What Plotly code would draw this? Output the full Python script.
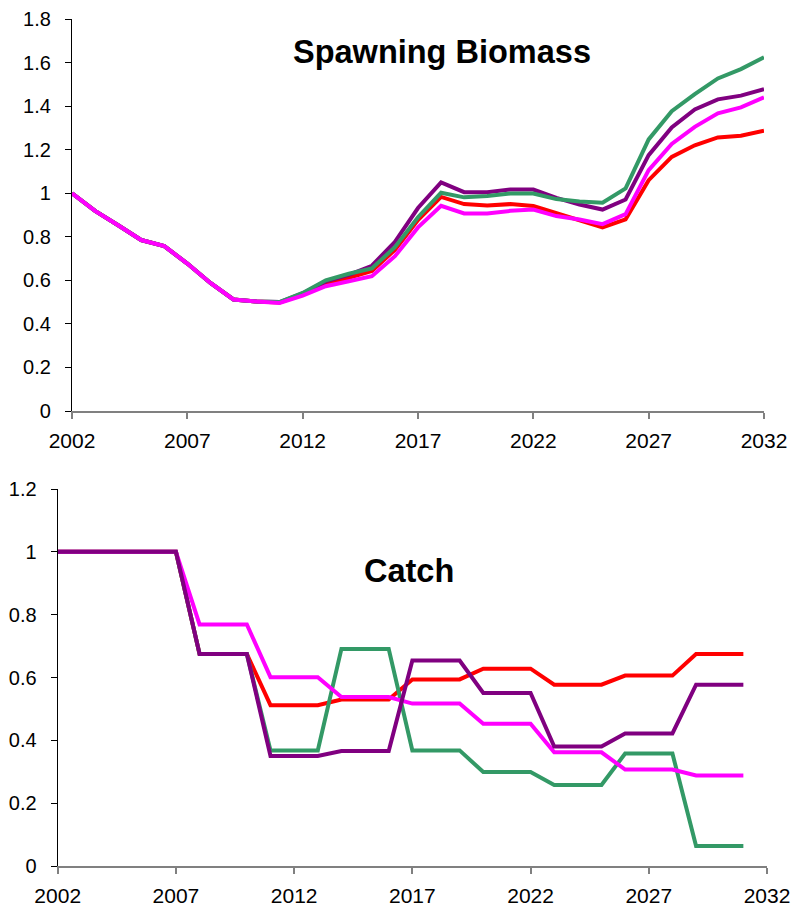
import plotly.graph_objects as go

# ---- Data ----
years_sb = list(range(2002, 2033))
years_catch = list(range(2002, 2032))

sb_red = [1.0, 0.919, 0.853, 0.785, 0.757, 0.677, 0.588, 0.512, 0.503, 0.498, 0.535,
          0.585, 0.611, 0.643, 0.740, 0.877, 0.983, 0.950, 0.944, 0.950, 0.941,
          0.907, 0.873, 0.843, 0.880, 1.060, 1.167, 1.220, 1.256, 1.264, 1.287]
sb_purple = [1.0, 0.919, 0.853, 0.785, 0.757, 0.677, 0.588, 0.512, 0.503, 0.500, 0.540,
             0.595, 0.625, 0.667, 0.777, 0.932, 1.050, 1.005, 1.005, 1.017, 1.017,
             0.979, 0.948, 0.925, 0.971, 1.175, 1.302, 1.385, 1.431, 1.448, 1.478]
sb_green = [1.0, 0.919, 0.853, 0.785, 0.757, 0.677, 0.588, 0.512, 0.503, 0.500, 0.542,
            0.600, 0.630, 0.655, 0.752, 0.890, 1.002, 0.981, 0.987, 0.999, 0.999,
            0.973, 0.962, 0.956, 1.022, 1.247, 1.377, 1.455, 1.527, 1.570, 1.624]
sb_magenta = [1.0, 0.919, 0.853, 0.785, 0.757, 0.677, 0.588, 0.512, 0.503, 0.496, 0.530,
              0.573, 0.596, 0.619, 0.711, 0.843, 0.942, 0.907, 0.907, 0.919, 0.925,
              0.895, 0.879, 0.858, 0.904, 1.106, 1.226, 1.305, 1.367, 1.394, 1.440]

catch_red = [1, 1, 1, 1, 1, 1, 0.675, 0.675, 0.675, 0.512, 0.512, 0.512, 0.530, 0.530, 0.530,
             0.594, 0.594, 0.594, 0.628, 0.628, 0.628, 0.577, 0.577, 0.577, 0.606, 0.606, 0.606,
             0.675, 0.675, 0.675]
catch_green = [1, 1, 1, 1, 1, 1, 0.675, 0.675, 0.675, 0.368, 0.368, 0.368, 0.691, 0.691, 0.691,
               0.368, 0.368, 0.368, 0.299, 0.299, 0.299, 0.258, 0.258, 0.258, 0.358, 0.358, 0.358,
               0.064, 0.064, 0.064]
catch_magenta = [1, 1, 1, 1, 1, 1, 0.769, 0.769, 0.769, 0.601, 0.601, 0.601, 0.538, 0.538, 0.538,
                 0.517, 0.517, 0.517, 0.453, 0.453, 0.453, 0.362, 0.362, 0.362, 0.307, 0.307, 0.307,
                 0.288, 0.288, 0.288]
catch_purple = [1, 1, 1, 1, 1, 1, 0.675, 0.675, 0.675, 0.350, 0.350, 0.350, 0.366, 0.366, 0.366,
                0.654, 0.654, 0.654, 0.551, 0.551, 0.551, 0.380, 0.380, 0.380, 0.422, 0.422, 0.422,
                0.577, 0.577, 0.577]

x_ticks = [2002, 2007, 2012, 2017, 2022, 2027, 2032]
sb_yticks = [0, 0.2, 0.4, 0.6, 0.8, 1, 1.2, 1.4, 1.6, 1.8]
sb_ylabels = ["0", "0.2", "0.4", "0.6", "0.8", "1", "1.2", "1.4", "1.6", "1.8"]
catch_yticks = [0, 0.2, 0.4, 0.6, 0.8, 1, 1.2]
catch_ylabels = ["0", "0.2", "0.4", "0.6", "0.8", "1", "1.2"]

RED = "#FF0000"
GREEN = "#339966"
PURPLE = "#800080"
MAGENTA = "#FF00FF"
LW = 4

fig = go.Figure()

for y, c in [(sb_red, RED), (sb_purple, PURPLE), (sb_green, GREEN), (sb_magenta, MAGENTA)]:
    fig.add_trace(go.Scatter(x=years_sb, y=y, mode="lines", line=dict(color=c, width=LW),
                             xaxis="x", yaxis="y", showlegend=False, cliponaxis=False))

for y, c in [(catch_red, RED), (catch_green, GREEN), (catch_magenta, MAGENTA), (catch_purple, PURPLE)]:
    fig.add_trace(go.Scatter(x=years_catch, y=y, mode="lines", line=dict(color=c, width=LW),
                             xaxis="x2", yaxis="y2", showlegend=False, cliponaxis=False))

FONT = "Liberation Sans, Arial, sans-serif"
# page body has an 8px default margin; the figure sits at (8, 8)
OFF = 8
W, H = 792, 904


def px(x):
    return (x - OFF) / W


def py(y):
    return 1 - (y - OFF) / H


xcommon = dict(range=[2002, 2032], tickmode="array", tickvals=x_ticks,
               ticktext=[str(t) for t in x_ticks], showgrid=False, zeroline=False,
               showline=True, linecolor="#808080", linewidth=1.5, ticks="outside",
               ticklen=6, tickcolor="#808080", tickwidth=1.5, automargin=False,
               tickfont=dict(family=FONT, size=21, color="black"), ticklabelstandoff=4)
ycommon = dict(showgrid=False, zeroline=False, showline=True, linecolor="black",
               linewidth=1.2, ticks="outside", ticklen=6, tickcolor="black", tickwidth=1.2,
               automargin=False,
               tickfont=dict(family=FONT, size=20, color="black"), ticklabelstandoff=10)

fig.update_layout(
    width=W, height=H,
    margin=dict(l=0, r=0, t=0, b=0, autoexpand=False),
    paper_bgcolor="white", plot_bgcolor="white",
    xaxis=dict(domain=[px(72), px(764)], anchor="y", **xcommon),
    yaxis=dict(domain=[py(411), py(19)], anchor="x", range=[0, 1.8],
               tickmode="array", tickvals=sb_yticks, ticktext=sb_ylabels, **ycommon),
    xaxis2=dict(domain=[px(57.7), px(767)], anchor="y2", **xcommon),
    yaxis2=dict(domain=[py(866), py(489)], anchor="x2", range=[0, 1.2],
                tickmode="array", tickvals=catch_yticks, ticktext=catch_ylabels, **ycommon),
    annotations=[
        dict(text="<b>Spawning Biomass</b>", x=px(441.5), y=py(52), xref="paper", yref="paper",
             xanchor="center", yanchor="middle", showarrow=False,
             font=dict(family=FONT, size=32.5, color="black")),
        dict(text="<b>Catch</b>", x=px(408.5), y=py(571), xref="paper", yref="paper",
             xanchor="center", yanchor="middle", showarrow=False,
             font=dict(family=FONT, size=32.5, color="black")),
    ],
)

fig.write_html("out.html")
